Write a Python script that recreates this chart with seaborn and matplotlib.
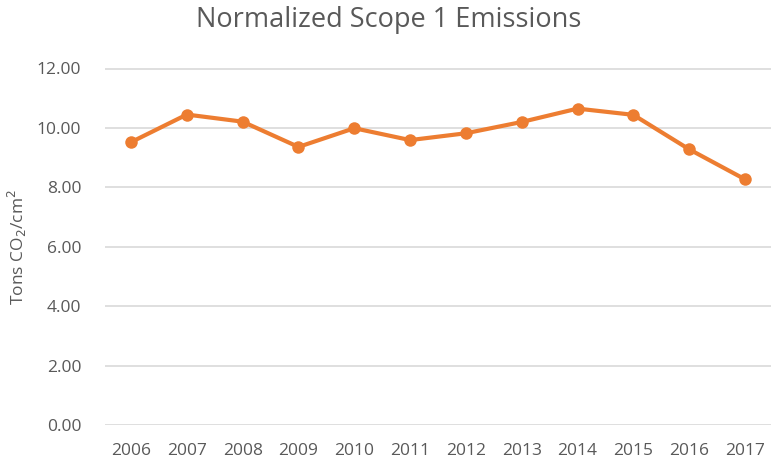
import matplotlib
matplotlib.use("Agg")
import matplotlib.pyplot as plt
import seaborn as sns
import pandas as pd

years = ["2006", "2007", "2008", "2009", "2010", "2011", "2012", "2013", "2014", "2015", "2016", "2017"]
emissions = [9.52, 10.45, 10.21, 9.36, 9.99, 9.59, 9.82, 10.20, 10.65, 10.44, 9.28, 8.27]
yticks = [0, 2, 4, 6, 8, 10, 12]

sns.set_theme(style="white")
plt.rcParams['font.family'] = ['Open Sans', 'DejaVu Sans']

df = pd.DataFrame({"year": years, "value": emissions})
df["pos"] = range(len(years))

fig = plt.figure(figsize=(7.72, 4.63), dpi=100)
ax = fig.add_axes([105/772, 1-425/463, 666/772, (425-68.5)/463])

grey = "#595959"
for t in yticks:
    ax.axhline(t, color="#D9D9D9", lw=1.2, zorder=0)

sns.lineplot(data=df, x="pos", y="value", ax=ax, color="#ED7D31", lw=3,
             marker="o", markersize=9, markeredgewidth=0, zorder=3)

ax.set_xlim(-0.466, 11.466)
ax.set_ylim(0, 12)
ax.set_xticks(range(len(years)))
ax.set_xticklabels(years)
ax.set_yticks(yticks)
ax.set_yticklabels([f"{v:.2f}" for v in yticks])
ax.tick_params(axis="both", length=0, labelsize=12.5, labelcolor=grey)
ax.tick_params(axis="x", pad=13)
ax.tick_params(axis="y", pad=17)
for s in ax.spines.values():
    s.set_visible(False)
ax.set_xlabel("")
ax.set_ylabel("Tons CO$_2$/cm$^2$", color=grey, fontsize=12.5, labelpad=6)
fig.text(389/772, 1-20/463, "Normalized Scope 1 Emissions", ha="center", va="center",
         fontsize=19.5, color=grey)

fig.savefig("out.png", dpi=100)
